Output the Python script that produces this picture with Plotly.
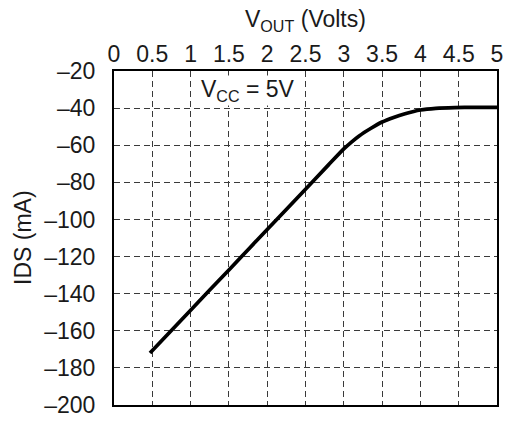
import plotly.graph_objects as go

vout = [0.47, 1.0, 1.5, 2.0, 2.5, 2.8, 3.0, 3.1, 3.2, 3.35, 3.5, 3.65, 3.8, 4.0, 4.2, 4.45, 4.7, 5.0]
ids = [-172.0, -148.9, -127.2, -105.4, -83.7, -70.6, -62.0, -58.3, -55.0, -51.0, -47.5, -45.0, -43.0, -41.0, -40.1, -39.7, -39.6, -39.6]

x_ticks = [0, 0.5, 1, 1.5, 2, 2.5, 3, 3.5, 4, 4.5, 5]
x_ticklabels = ["0", "0.5", "1", "1.5", "2", "2.5", "3", "3.5", "4", "4.5", "5"]
y_ticks = [-20, -40, -60, -80, -100, -120, -140, -160, -180, -200]
y_ticklabels = ["–20", "–40", "–60", "–80", "–100", "–120", "–140", "–160", "–180", "–200"]

FONT = "Liberation Sans, Arial, Helvetica, sans-serif"
TXT = "#1a1a1a"

fig = go.Figure()
fig.add_trace(go.Scatter(
    x=vout, y=ids, mode="lines",
    line=dict(color="black", width=3.7, shape="spline", smoothing=0.6),
    hoverinfo="skip", showlegend=False,
))

fig.update_layout(
    width=515, height=430,
    margin=dict(l=114, r=14, t=71, b=14),
    paper_bgcolor="white", plot_bgcolor="white",
    font=dict(family=FONT, size=23, color=TXT),
    xaxis=dict(
        range=[0, 5], side="top",
        tickvals=x_ticks, ticktext=x_ticklabels,
        showgrid=True, gridcolor="#3a3a3a", gridwidth=1, griddash="6px,4px",
        showline=True, linecolor="black", linewidth=2, mirror=True,
        ticks="", ticklabelstandoff=-2,
        zeroline=False, fixedrange=True,
    ),
    yaxis=dict(
        range=[-200, -20],
        tickvals=y_ticks, ticktext=y_ticklabels,
        showgrid=True, gridcolor="#3a3a3a", gridwidth=1, griddash="6px,4px",
        showline=True, linecolor="black", linewidth=2, mirror=True,
        ticks="outside", ticklen=12, tickcolor="rgba(0,0,0,0)",
        zeroline=False, fixedrange=True,
    ),
    annotations=[
        dict(text="V<sub>OUT</sub> (Volts)", xref="paper", yref="paper",
             x=0.5, y=1, yshift=51, showarrow=False, xanchor="center", yanchor="middle",
             font=dict(family=FONT, size=23, color=TXT)),
        dict(text="IDS (mA)", xref="paper", yref="paper",
             x=0, y=0.5, xshift=-91, yshift=0, textangle=-90, showarrow=False,
             xanchor="center", yanchor="middle",
             font=dict(family=FONT, size=23, color=TXT)),
        dict(text="V<sub>CC</sub> = 5V", xref="x", yref="y",
             x=1.12, y=-30.5, showarrow=False, xanchor="left", yanchor="middle",
             bgcolor="white", borderpad=0,
             font=dict(family=FONT, size=23, color=TXT)),
    ],
)

fig.write_html("out.html", config={"displayModeBar": False},
               post_script="document.body.style.margin='0';document.body.style.padding='0';")
